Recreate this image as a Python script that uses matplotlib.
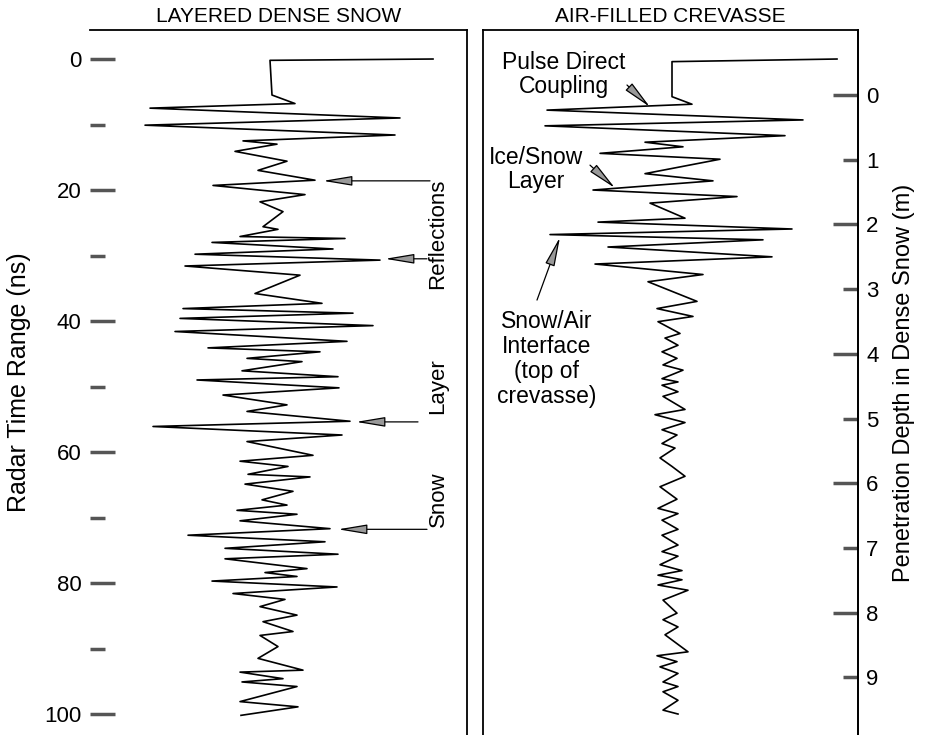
import matplotlib
matplotlib.use('Agg')
import matplotlib.pyplot as plt
from matplotlib.patches import FancyArrowPatch
from matplotlib.ticker import FixedLocator, FormatStrFormatter, NullLocator

plt.rcParams['font.family'] = ['Liberation Sans', 'DejaVu Sans']

# ---------------- data ----------------
# Left trace: layered dense snow (time in ns, amplitude in arbitrary units)
t_left = [0, 0.2, 5.5, 6.8, 7.5, 9.0, 10.1, 11.6, 12.5, 13.0, 14.1, 15.6, 17.0,
          18.5, 19.3, 20.7, 21.8, 23.3, 25.6, 26.0, 27.1, 27.4, 28.0, 29.0, 29.8,
          30.7, 31.6, 33.0, 35.8, 37.3, 38.1, 38.8, 39.6, 40.7, 41.6, 43.1, 44.1,
          44.7, 45.7, 46.2, 47.6, 48.5, 49.0, 50.2, 51.3, 52.8, 53.8, 55.3, 56.1,
          57.4, 58.4, 60.5, 61.4, 62.2, 63.4, 63.8, 64.9, 66.0, 67.3, 68.1, 68.9,
          69.5, 70.5, 71.7, 72.7, 73.7, 74.7, 75.6, 76.3, 77.8, 78.4, 79.0, 79.7,
          80.6, 81.6, 82.5, 83.6, 84.9, 85.9, 87.4, 88.0, 89.7, 91.5, 93.3, 93.6,
          94.6, 95.1, 95.8, 98.1, 98.9, 100.2]
a_left = [16.3, 0.0, 0.2, 2.5, -12.0, 13.0, -12.5, 12.5, -2.7, 0.7, -3.5, 1.7, -1.2,
          4.5, -5.7, 3.5, -1.0, 1.3, -0.7, 0.8, -3.0, 7.5, -5.8, 6.3, -7.5,
          11.0, -8.5, 3.0, -1.5, 5.2, -8.7, 8.3, -9.0, 10.3, -9.5, 7.7, -6.2,
          5.0, -2.3, 3.2, -2.8, 6.8, -7.3, 6.9, -4.7, 1.7, -2.3, 8.0, -11.7,
          7.2, -2.3, 4.3, -3.0, 1.8, -2.2, 4.0, -2.5, 2.3, -0.8, 1.7, -3.3,
          2.7, -3.0, 6.0, -8.2, 5.5, -4.5, 6.8, -4.5, 3.7, -0.5, 2.7, -5.8,
          6.7, -3.7, 1.5, -1.0, 2.7, -0.7, 2.3, -1.0, 0.8, -1.2, 3.3, -3.0,
          1.3, -2.8, 2.7, -3.0, 2.8, -2.9]

# Right trace: air-filled crevasse
t_right = [0, 0.4, 5.75, 6.9, 7.8, 9.3, 10.2, 11.7, 12.7, 13.4, 14.4, 15.3, 17.5,
           18.6, 20.0, 21.0, 22.0, 24.3, 24.9, 25.95, 26.8, 27.6, 28.7, 30.2, 31.3,
           32.9, 34.0, 37.0, 38.1, 39.3, 40.1, 41.9, 42.6, 43.7, 44.7, 45.7, 46.7,
           47.5, 48.8, 49.3, 49.8, 50.8, 51.5, 53.5, 54.3, 55.5, 56.6, 57.4, 58.7,
           59.4, 60.9, 62.2, 63.7, 65.3, 67.2, 68.6, 69.4, 70.4, 71.8, 72.7, 74.2,
           75.2, 75.9, 77.2, 78.1, 78.8, 79.5, 80.3, 81.1, 82.6, 84.6, 85.6, 86.7,
           87.9, 90.5, 91.1, 92.0, 92.8, 93.8, 95.1, 95.8, 96.6, 97.9, 99.4, 100.0]
a_right = [16.7, 0.2, 0.2, 2.2, -12.3, 13.3, -12.5, 11.5, -2.5, 1.3, -7.0, 5.0, -2.5,
           4.3, -7.7, 6.7, -2.0, 1.5, -7.2, 12.2, -12.0, 9.3, -6.2, 10.2, -7.5,
           3.3, -2.2, 2.7, -1.3, 2.3, -1.2, 1.0, -0.5, 0.8, -0.8, 0.7, -0.7,
           1.3, -0.8, 0.8, -0.8, 0.8, -0.7, 1.5, -1.5, 1.5, -0.8, 0.7, -0.8,
           0.5, -1.0, 0.2, 1.5, -1.0, 0.7, -1.2, 0.8, -0.8, 0.8, -0.8, 0.8,
           -0.8, 0.8, -1.0, 1.2, -1.2, 1.2, -1.2, 1.8, -0.7, 0.7, -0.7, 0.8,
           -0.5, 1.8, -1.3, 0.7, -1.0, 0.8, -0.7, 0.8, -0.7, 0.8, -0.7, 0.8]

time_major = [0, 20, 40, 60, 80, 100]
time_minor = [10, 30, 50, 70, 90]
depth_major = [0, 2, 4, 6, 8]
depth_minor = [1, 3, 5, 7, 9]

# depth axis calibration (ns at 0 m, ns per m)
T0_NS = 5.5
NS_PER_M = 9.88

def t2d(t):
    return (t - T0_NS) / NS_PER_M

def d2t(d):
    return d * NS_PER_M + T0_NS

# ---------------- figure ----------------
fig = plt.figure(figsize=(9.29, 7.35), dpi=100)
W, H = 929, 735
axL = fig.add_axes([90 / W, 0, 377 / W, 705 / H])
axR = fig.add_axes([483 / W, 0, 375 / W, 705 / H])

YLIM = (103.2, -4.43)
for ax in (axL, axR):
    ax.set_ylim(*YLIM)
    ax.spines['bottom'].set_visible(False)
    ax.xaxis.set_major_locator(NullLocator())
    for s in ('top', 'left', 'right'):
        ax.spines[s].set_linewidth(1.3)
axL.spines['left'].set_visible(False)
axL.set_xlim(-18.0, 19.7)
axR.set_xlim(-18.7, 18.8)

axL.plot(a_left, t_left, color='black', lw=1.2)
axR.plot(a_right, t_right, color='black', lw=1.2)

# left axis ticks
axL.yaxis.set_major_locator(FixedLocator(time_major))
axL.yaxis.set_minor_locator(FixedLocator(time_minor))
axL.tick_params(axis='y', which='major', direction='in', length=18, width=2.5,
                color='#555555', labelsize=16, pad=6)
axL.tick_params(axis='y', which='minor', direction='in', length=11, width=2.5,
                color='#555555')
axL.set_ylabel('Radar Time Range (ns)', fontsize=18, labelpad=10)

axR.yaxis.set_major_locator(NullLocator())

sec = axR.secondary_yaxis('right', functions=(t2d, d2t))
sec.yaxis.set_major_locator(FixedLocator(depth_major))
sec.yaxis.set_minor_locator(FixedLocator(depth_minor))
sec.yaxis.set_major_formatter(FormatStrFormatter('%d'))
sec.yaxis.set_minor_formatter(FormatStrFormatter('%d'))
sec.tick_params(axis='y', which='major', direction='in', length=18, width=2.5,
                color='#555555', labelsize=16, pad=6)
sec.tick_params(axis='y', which='minor', direction='in', length=11, width=2.5,
                color='#555555', labelsize=16, pad=6)
sec.spines['right'].set_linewidth(1.3)
sec.set_ylabel('Penetration Depth in Dense Snow (m)', fontsize=17, labelpad=10)

axL.set_title('LAYERED DENSE SNOW', fontsize=15, pad=6)
axR.set_title('AIR-FILLED CREVASSE', fontsize=15, pad=6)


def arrow(ax, tail, tip):
    p = FancyArrowPatch(posA=tail, posB=tip,
                        arrowstyle='-|>,head_length=1.8,head_width=0.3',
                        mutation_scale=10, fc='#999999', ec='black', lw=0.9,
                        shrinkA=0, shrinkB=0)
    ax.add_patch(p)

# left annotations
arrow(axL, (16.0, 18.6), (5.3, 18.6))
arrow(axL, (15.7, 30.5), (11.5, 30.5))
arrow(axL, (14.8, 55.4), (8.6, 55.4))
arrow(axL, (15.7, 71.8), (6.8, 71.8))
axL.text(16.8, 26.7, 'Reflections', rotation=90, ha='center', va='center', fontsize=16)
axL.text(16.8, 50.0, 'Layer', rotation=90, ha='center', va='center', fontsize=16)
axL.text(16.8, 67.2, 'Snow', rotation=90, ha='center', va='center', fontsize=16)

# right annotations
axR.text(-10.6, 2.3, 'Pulse Direct\nCoupling', ha='center', va='center',
         fontsize=16.5, linespacing=1.05)
arrow(axR, (-4.3, 3.97), (-2.0, 7.33))
axR.text(-13.4, 16.8, 'Ice/Snow\nLayer', ha='center', va='center',
         fontsize=16.5, linespacing=1.05)
arrow(axR, (-8.0, 16.2), (-5.5, 19.7))
axR.text(-12.35, 45.8, 'Snow/Air\nInterface\n(top of\ncrevasse)', ha='center',
         va='center', fontsize=16.5, linespacing=1.1)
arrow(axR, (-13.3, 36.8), (-11.0, 27.2))

fig.savefig('out.png', dpi=100)
